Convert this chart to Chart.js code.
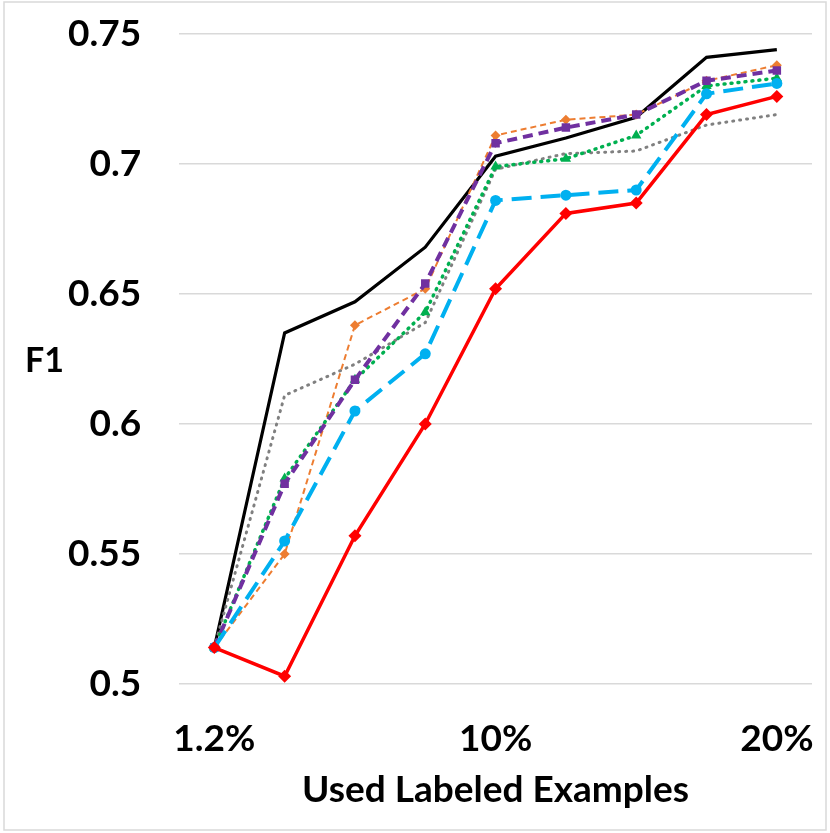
<!DOCTYPE html>
<html>
<head>
<meta charset="utf-8">
<script src="https://cdn.jsdelivr.net/npm/chart.js@4"></script>
<style>
  html, body { margin: 0; padding: 0; background: #fff; }
  #wrap { width: 830px; height: 833px; position: relative; }
</style>
</head>
<body>
<div id="wrap"><canvas id="f1Chart"></canvas></div>
<script>
// ----- data -----
const xLabels = ["1.2%", "", "", "", "10%", "", "", "", "20%"];
const yTicks = [0.5, 0.55, 0.6, 0.65, 0.7, 0.75];

const blackSeries  = [0.514, 0.635, 0.647, 0.668, 0.703, 0.710, 0.718, 0.741, 0.744];
const orangeSeries = [0.514, 0.550, 0.638, 0.652, 0.711, 0.717, 0.719, 0.732, 0.738];
const purpleSeries = [0.514, 0.577, 0.617, 0.654, 0.708, 0.714, 0.719, 0.732, 0.736];
const greenSeries  = [0.514, 0.579, 0.617, 0.643, 0.699, 0.702, 0.711, 0.730, 0.733];
const greySeries   = [0.514, 0.611, 0.623, 0.639, 0.698, 0.704, 0.705, 0.715, 0.719];
const blueSeries   = [0.514, 0.555, 0.605, 0.627, 0.686, 0.688, 0.690, 0.727, 0.731];
const redSeries    = [0.514, 0.503, 0.557, 0.600, 0.652, 0.681, 0.685, 0.719, 0.726];

const FONT = "Lato, 'Open Sans', sans-serif";

// white background, outer frame and the horizontal "F1" title
const framePlugin = {
  id: "frame",
  beforeDraw(chart) {
    const c = chart.ctx;
    c.save();
    c.fillStyle = "#fff";
    c.fillRect(0, 0, chart.width, chart.height);
    c.strokeStyle = "#d9d9d9";
    c.lineWidth = 1.5;
    c.strokeRect(4, 2, chart.width - 8, chart.height - 5);
    c.restore();
  },
  afterDraw(chart) {
    const c = chart.ctx;
    c.save();
    c.fillStyle = "#000";
    c.font = "bold 34px " + FONT;
    c.textBaseline = "middle";
    c.textAlign = "left";
    c.fillText("F1", 25, 361);
    c.restore();
  }
};

// drop the extra label overflow padding so the plot area sits where the reference has it
function noOverflow(scale) {
  scale.paddingLeft = 0;
  scale.paddingRight = 0;
  scale.paddingTop = 0;
  scale.paddingBottom = 0;
}

function line(label, data, color, width, dash, point, radius) {
  return {
    label: label,
    data: data,
    borderColor: color,
    backgroundColor: color,
    borderWidth: width,
    borderDash: dash,
    borderCapStyle: dash.length && dash[0] < 4 ? "round" : "butt",
    pointStyle: point || "circle",
    pointRadius: point ? radius : 0,
    pointBorderWidth: 0,
    tension: 0,
    fill: false
  };
}

const ctx = document.getElementById("f1Chart").getContext("2d");
new Chart(ctx, {
  type: "line",
  data: {
    labels: xLabels,
    datasets: [
      line("Red", redSeries, "#ff0000", 3.5, [], "rectRot", 6.5),
      line("Blue", blueSeries, "#00b0f0", 4, [20, 9], "circle", 5.5),
      line("Purple", purpleSeries, "#7030a0", 4, [10, 6], "rect", 6),
      line("Green", greenSeries, "#00b050", 3.5, [1, 6], "triangle", 6),
      line("Orange", orangeSeries, "#ed7d31", 2, [6, 4], "rectRot", 5),
      line("Grey", greySeries, "#808080", 3, [1, 6], null, 0),
      line("Black", blackSeries, "#000000", 3.2, [], null, 0)
    ]
  },
  options: {
    responsive: true,
    maintainAspectRatio: false,
    animation: false,
    layout: { padding: { left: 30, right: 18, top: 34, bottom: 24 } },
    plugins: {
      legend: { display: false },
      tooltip: { enabled: false }
    },
    scales: {
      x: {
        offset: true,
        afterFit(scale) {
          noOverflow(scale);
          scale.height = 125;
        },
        grid: { display: false, drawTicks: false },
        border: { display: false },
        ticks: {
          color: "#000",
          font: { family: FONT, size: 37, weight: "bold", lineHeight: 1 },
          padding: 37,
          maxRotation: 0,
          autoSkip: false
        },
        title: {
          display: true,
          text: "Used Labeled Examples",
          color: "#000",
          font: { family: FONT, size: 37, weight: "bold", lineHeight: 1 },
          padding: { top: 0, bottom: 0 }
        }
      },
      y: {
        min: yTicks[0],
        max: yTicks[yTicks.length - 1],
        afterFit: noOverflow,
        afterBuildTicks(scale) {
          scale.ticks = yTicks.map(v => ({ value: v }));
        },
        grid: { color: "#d9d9d9", lineWidth: 1.5, drawTicks: false },
        border: { display: false },
        ticks: {
          color: "#000",
          font: { family: FONT, size: 37, weight: "bold" },
          padding: 38,
          callback: v => String(+v.toFixed(2))
        }
      }
    }
  },
  plugins: [framePlugin]
});
</script>
</body>
</html>
